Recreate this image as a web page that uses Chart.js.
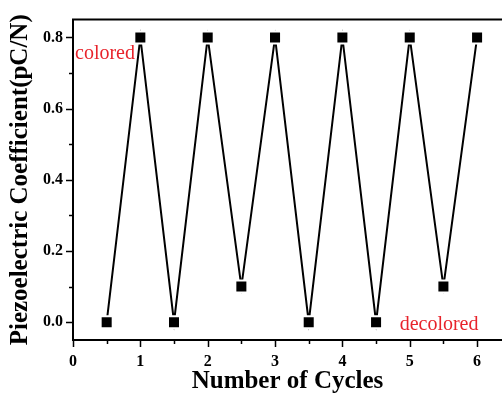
<!DOCTYPE html>
<html>
<head>
<meta charset="utf-8">
<script src="https://cdn.jsdelivr.net/npm/chart.js@4"></script>
<style>
  html, body { margin: 0; padding: 0; background: #fff; overflow: hidden; }
  canvas { display: block; }
</style>
</head>
<body>
<canvas id="cycleChart" width="502" height="394"></canvas>
<script>
// data
const cycles = [0.5, 1, 1.5, 2, 2.5, 3, 3.5, 4, 4.5, 5, 5.5, 6];
const coeff = [0, 0.8, 0, 0.8, 0.1, 0.8, 0, 0.8, 0, 0.8, 0.1, 0.8];
const xTicks = [0, 1, 2, 3, 4, 5, 6];
const yTicks = [0, 0.2, 0.4, 0.6, 0.8];
const notes = [
  { text: "colored", x: 0.03, y: 0.755 },
  { text: "decolored", x: 4.85, y: -0.008 },
];

const serif = "'Liberation Serif', 'Times New Roman', serif";
const red = "#e8232b";

// minor ticks sit half way between the major ones
function minors(ticks) {
  const out = [];
  for (let i = 0; i < ticks.length - 1; i++) out.push((ticks[i] + ticks[i + 1]) / 2);
  return out;
}

// frame top line, tick marks and the red notes
const decorations = {
  id: "decorations",
  afterDraw(chart) {
    const { ctx, chartArea, scales } = chart;
    const x = scales.x, y = scales.y;
    ctx.save();
    ctx.strokeStyle = "#000";
    ctx.lineWidth = 2;
    ctx.beginPath();
    ctx.moveTo(chartArea.left - 1, chartArea.top);
    ctx.lineTo(chartArea.right, chartArea.top);
    ctx.stroke();

    ctx.lineWidth = 1.5;
    ctx.beginPath();
    const xAll = xTicks.map(v => [v, 7]).concat(minors(xTicks).map(v => [v, 4]));
    xAll.forEach(([v, len]) => {
      const px = Math.round(x.getPixelForValue(v)) + 0.5;
      ctx.moveTo(px, chartArea.bottom);
      ctx.lineTo(px, chartArea.bottom + len);
    });
    const yAll = yTicks.map(v => [v, 7]).concat(minors(yTicks).map(v => [v, 4]));
    yAll.forEach(([v, len]) => {
      const py = Math.round(y.getPixelForValue(v)) + 0.5;
      ctx.moveTo(chartArea.left, py);
      ctx.lineTo(chartArea.left - len, py);
    });
    ctx.stroke();

    ctx.fillStyle = red;
    ctx.font = "20px " + serif;
    ctx.textAlign = "left";
    ctx.textBaseline = "middle";
    notes.forEach(n => ctx.fillText(n.text, x.getPixelForValue(n.x), y.getPixelForValue(n.y)));
    ctx.restore();
  },
};

new Chart(document.getElementById("cycleChart"), {
  type: "scatter",
  data: {
    datasets: [
      {
        data: cycles.map((c, i) => ({ x: c, y: coeff[i] })),
        showLine: true,
        borderColor: "#000",
        borderWidth: 2,
        tension: 0,
        pointStyle: "rect",
        pointRadius: 8.5,
        pointBackgroundColor: "#000",
        pointBorderColor: "#fff",
        pointBorderWidth: 2,
      },
    ],
  },
  options: {
    responsive: false,
    animation: false,
    events: [],
    layout: { autoPadding: false, padding: { top: 18, right: 0, left: 0, bottom: 0 } },
    plugins: {
      legend: { display: false },
      tooltip: { enabled: false },
    },
    scales: {
      x: {
        type: "linear",
        min: 0,
        max: 6.37, // the frame is cut off at the right edge
        afterBuildTicks: s => { s.ticks = xTicks.map(v => ({ value: v })); },
        afterFit: s => { s.height = 54; s.paddingLeft = 0; s.paddingRight = 0; },
        border: { color: "#000", width: 2 },
        grid: { display: false, drawTicks: false },
        ticks: {
          color: "#000",
          padding: 12,
          font: { family: serif, size: 16, weight: "bold" },
          callback: v => String(v),
        },
        title: {
          display: true,
          text: "Number of Cycles",
          color: "#000",
          padding: { top: 0, bottom: 0 },
          font: { family: serif, size: 25, weight: "bold", lineHeight: 1 },
        },
      },
      y: {
        min: -0.05,
        max: 0.85,
        afterBuildTicks: s => { s.ticks = yTicks.map(v => ({ value: v })); },
        afterFit: s => { s.width = 73; },
        border: { color: "#000", width: 2 },
        grid: { display: false, drawTicks: false },
        ticks: {
          color: "#000",
          padding: 10,
          font: { family: serif, size: 16, weight: "bold" },
          callback: v => v.toFixed(1),
        },
        title: {
          display: true,
          text: "Piezoelectric Coefficient(pC/N)",
          color: "#000",
          padding: { top: 8, bottom: 0 },
          font: { family: serif, size: 25, weight: "bold", lineHeight: 1 },
        },
      },
    },
  },
  plugins: [decorations],
});
</script>
</body>
</html>
